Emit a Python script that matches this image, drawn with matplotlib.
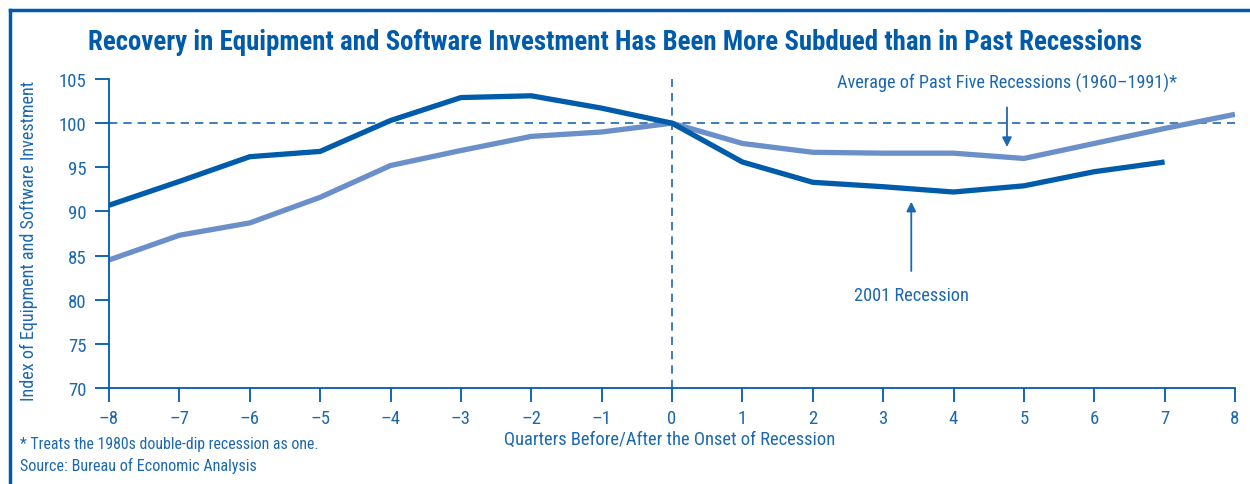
import matplotlib.pyplot as plt
from matplotlib.lines import Line2D

# Data
quarters_2001 = [-8, -7, -6, -5, -4, -3, -2, -1, 0, 1, 2, 3, 4, 5, 6, 7]
recession_2001 = [90.7, 93.4, 96.2, 96.8, 100.3, 102.9, 103.1, 101.7, 100.0,
                  95.6, 93.3, 92.8, 92.2, 92.9, 94.5, 95.6]
quarters_avg = [-8, -7, -6, -5, -4, -3, -2, -1, 0, 1, 2, 3, 4, 5, 6, 7, 8]
past_average = [84.5, 87.3, 88.7, 91.6, 95.2, 96.9, 98.5, 99.0, 100.0,
                97.7, 96.7, 96.6, 96.6, 96.0, 97.7, 99.4, 101.0]
x_ticks = list(range(-8, 9))
y_ticks = [70, 75, 80, 85, 90, 95, 100, 105]

dark = '#005BAA'
light = '#6B8FC9'
txt = '#1C68B0'

plt.rcParams['font.family'] = ['Roboto Condensed', 'Liberation Sans Narrow', 'Roboto', 'DejaVu Sans']

fig = plt.figure(figsize=(12.5, 4.85), dpi=100)
ax = fig.add_axes([0.0872, 0.198, 0.9008, 0.637])

ax.axhline(100, color=txt, lw=1.2, dashes=(5, 3.6))
ax.axvline(0, color=txt, lw=1.2, dashes=(5, 3.6))

ax.plot(quarters_avg, past_average, color=light, lw=3.8, solid_capstyle='butt')
ax.plot(quarters_2001, recession_2001, color=dark, lw=3.8, solid_capstyle='butt')

ax.set_xlim(-8, 8)
ax.set_ylim(70, 105)
ax.set_xticks(x_ticks)
ax.set_xticklabels([str(t).replace('-', '\u2013') for t in x_ticks])
ax.set_yticks(y_ticks)

for s in ['top', 'right']:
    ax.spines[s].set_visible(False)
for s in ['left', 'bottom']:
    ax.spines[s].set_color(dark)
    ax.spines[s].set_linewidth(1.3)
ax.tick_params(colors=dark, labelcolor=txt, labelsize=13.5, length=10, width=1.3)
ax.tick_params(axis='x', pad=5)
ax.tick_params(axis='y', pad=6)

xl = ax.set_xlabel('Quarters Before/After the Onset of Recession', color=txt, fontsize=12)
ax.xaxis.set_label_coords(0.498, -0.136)
yl = ax.set_ylabel('Index of Equipment and Software Investment', color=txt, fontsize=12)
ax.yaxis.set_label_coords(-0.063, 0.48)

# annotations
a1 = ax.annotate('Average of Past Five Recessions (1960\u20131991)*', xy=(4.76, 97.3), xytext=(4.76, 104.6),
                 ha='center', va='center', color=txt, fontsize=12,
                 arrowprops=dict(arrowstyle='-|>', color=txt, lw=1.3, mutation_scale=14, shrinkA=9, shrinkB=0))
a2 = ax.annotate('2001 Recession', xy=(3.40, 91.1), xytext=(3.40, 80.5),
                 ha='center', va='center', color=txt, fontsize=12,
                 arrowprops=dict(arrowstyle='-|>', color=txt, lw=1.3, mutation_scale=14, shrinkA=9, shrinkB=0))

title = fig.text(0.492, 0.913, 'Recovery in Equipment and Software Investment Has Been More Subdued than in Past Recessions',
                 ha='center', va='center', color=dark, fontsize=16, fontweight='bold')

f1 = fig.text(0.016, 0.083, '* Treats the 1980s double-dip recession as one.', color=txt, fontsize=10.5, va='center')
f2 = fig.text(0.016, 0.040, 'Source: Bureau of Economic Analysis', color=txt, fontsize=10.5, va='center')

# scale the long texts to the widths they have in the reference
fig.canvas.draw()
r = fig.canvas.get_renderer()
for t, w in [(title, 1052), (xl, 330), (a1, 340), (a2, 114), (f1, 301), (f2, 239)]:
    cur = t.get_window_extent(r).width
    t.set_fontsize(t.get_fontsize() * w / cur)
cur = yl.get_window_extent(r).height
yl.set_fontsize(yl.get_fontsize() * 320 / cur)

# frame around the figure (top and left edges visible)
fig.add_artist(Line2D([0.008, 1.0], [0.977, 0.977], color=dark, lw=2.5, transform=fig.transFigure))
fig.add_artist(Line2D([0.008, 0.008], [0.0, 0.977], color=dark, lw=2.5, transform=fig.transFigure))

fig.savefig('out.png', dpi=100)
